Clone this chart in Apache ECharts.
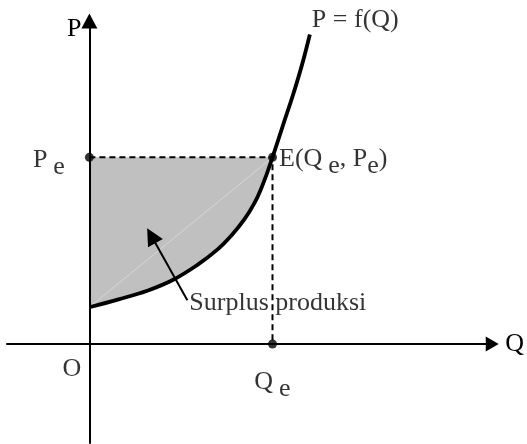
<!DOCTYPE html>
<html>
<head>
<meta charset="utf-8">
<script src="https://cdn.jsdelivr.net/npm/echarts@6/dist/echarts.min.js"></script>
<style>
  html, body { margin: 0; padding: 0; background: #fff; }
  #chart { width: 527px; height: 444px; }
</style>
</head>
<body>
<div id="chart"></div>
<script>
// supply curve P = f(Q) (units chosen so Qe = 10, Pe = 10)
const supplyCurve = [
  [0, 1.97], [1.59, 2.39], [3.20, 2.87], [4.55, 3.43], [5.90, 4.24],
  [6.97, 5.04], [7.78, 5.84], [8.48, 6.70], [9.02, 7.56], [9.35, 8.25],
  [9.67, 9.06], [10, 10], [10.58, 11.74], [11.12, 13.34], [11.61, 14.95],
  [12.04, 16.58]
];
const Qe = 10;
const Pe = 10;
// arrow pointing into the shaded area: tail, head
const surplusArrow = [[5.35, 2.35], [3.38, 5.8]];
const axisNames = ['Q', 'P'];
const curveName = 'P = f(Q)';
const areaName = 'Surplus produksi';
const originName = 'O';

const font = 'Liberation Serif';
const txt = { fontFamily: font, fontSize: 26, color: '#000' };
const rich = {
  m: { ...txt, lineHeight: 26, verticalAlign: 'top' },
  s: { ...txt, lineHeight: 26, verticalAlign: 'top', padding: [7, 0, 0, 6] },
  t: { ...txt, lineHeight: 26, verticalAlign: 'top', padding: [7, 0, 0, 0] }
};

const surplusEdge = supplyCurve.filter(p => p[0] <= Qe);

let chart = echarts.init(document.getElementById('chart'));
chart.setOption({
  animation: false,
  grid: { left: 7, right: 28, top: 21, bottom: 1 },
  xAxis: {
    type: 'value', min: -4.5, max: 22,
    axisLine: { onZero: true, symbol: ['none', 'triangle'], symbolSize: [15, 13], lineStyle: { color: '#000', width: 2 } },
    axisTick: { show: false }, axisLabel: { show: false }, splitLine: { show: false },
    name: axisNames[0], nameLocation: 'end', nameGap: 13,
    nameTextStyle: { ...txt, verticalAlign: 'middle' }
  },
  yAxis: {
    type: 'value', min: -5.3, max: 17.3,
    axisLine: { onZero: true, symbol: ['none', 'triangle'], symbolSize: [16, 15], lineStyle: { color: '#000', width: 2 } },
    axisTick: { show: false }, axisLabel: { show: false }, splitLine: { show: false },
    name: axisNames[1], nameLocation: 'end', nameGap: -8,
    nameTextStyle: { ...txt, align: 'right', verticalAlign: 'middle', padding: [0, 8, 0, 0] }
  },
  series: [
    {
      // shaded producer surplus
      type: 'line', z: -1, smooth: 0.4, showSymbol: false,
      data: surplusEdge,
      lineStyle: { width: 0 },
      areaStyle: { color: '#c0c0c0', opacity: 1, origin: Pe }
    },
    {
      type: 'line', z: 1, showSymbol: false,
      data: [surplusEdge[0], [Qe, Pe]],
      lineStyle: { color: '#dcdcdc', width: 0.8 }
    },
    {
      type: 'line', showSymbol: false,
      data: [[0, Pe], [Qe, Pe], [Qe, 0]],
      lineStyle: { color: '#000', width: 2, type: [6, 4] }
    },
    {
      type: 'line', smooth: 0.4, showSymbol: false,
      data: supplyCurve,
      lineStyle: { color: '#000', width: 3.8 }
    },
    {
      type: 'scatter', symbolSize: 9, itemStyle: { color: '#000' },
      data: [
        { value: [0, Pe], label: { show: true, position: 'left', distance: 20, offset: [0, 3],
          formatter: '{m|P}{s|e}', rich } },
        { value: [Qe, Pe], label: { show: true, position: 'right', distance: 2, offset: [0, 2],
          formatter: '{m|E(Q}{s|e}{m|, P}{t|e}{m|)}', rich } },
        { value: [Qe, 0], label: { show: true, position: 'bottom', distance: 21, offset: [0, 0],
          formatter: '{m|Q}{s|e}', rich } }
      ]
    },
    {
      type: 'lines', coordinateSystem: 'cartesian2d',
      symbol: ['none', 'triangle'], symbolSize: [15, 17],
      lineStyle: { color: '#000', width: 2, opacity: 1 },
      data: [{ coords: surplusArrow }]
    },
    {
      type: 'scatter', symbolSize: 0,
      label: { show: true, position: [0, 0], verticalAlign: 'middle', ...txt },
      data: [
        { value: [0, 0], label: { formatter: originName, align: 'center', offset: [-17.5, 25] } },
        { value: supplyCurve[supplyCurve.length - 1], label: { formatter: curveName, align: 'left', offset: [2, -14] } },
        { value: surplusArrow[0], label: { formatter: areaName, align: 'left', offset: [2, 3] } }
      ]
    }
  ]
});

window.addEventListener('resize', () => {
  if (chart) {
    chart.resize();
  }
});
</script>
</body>
</html>
